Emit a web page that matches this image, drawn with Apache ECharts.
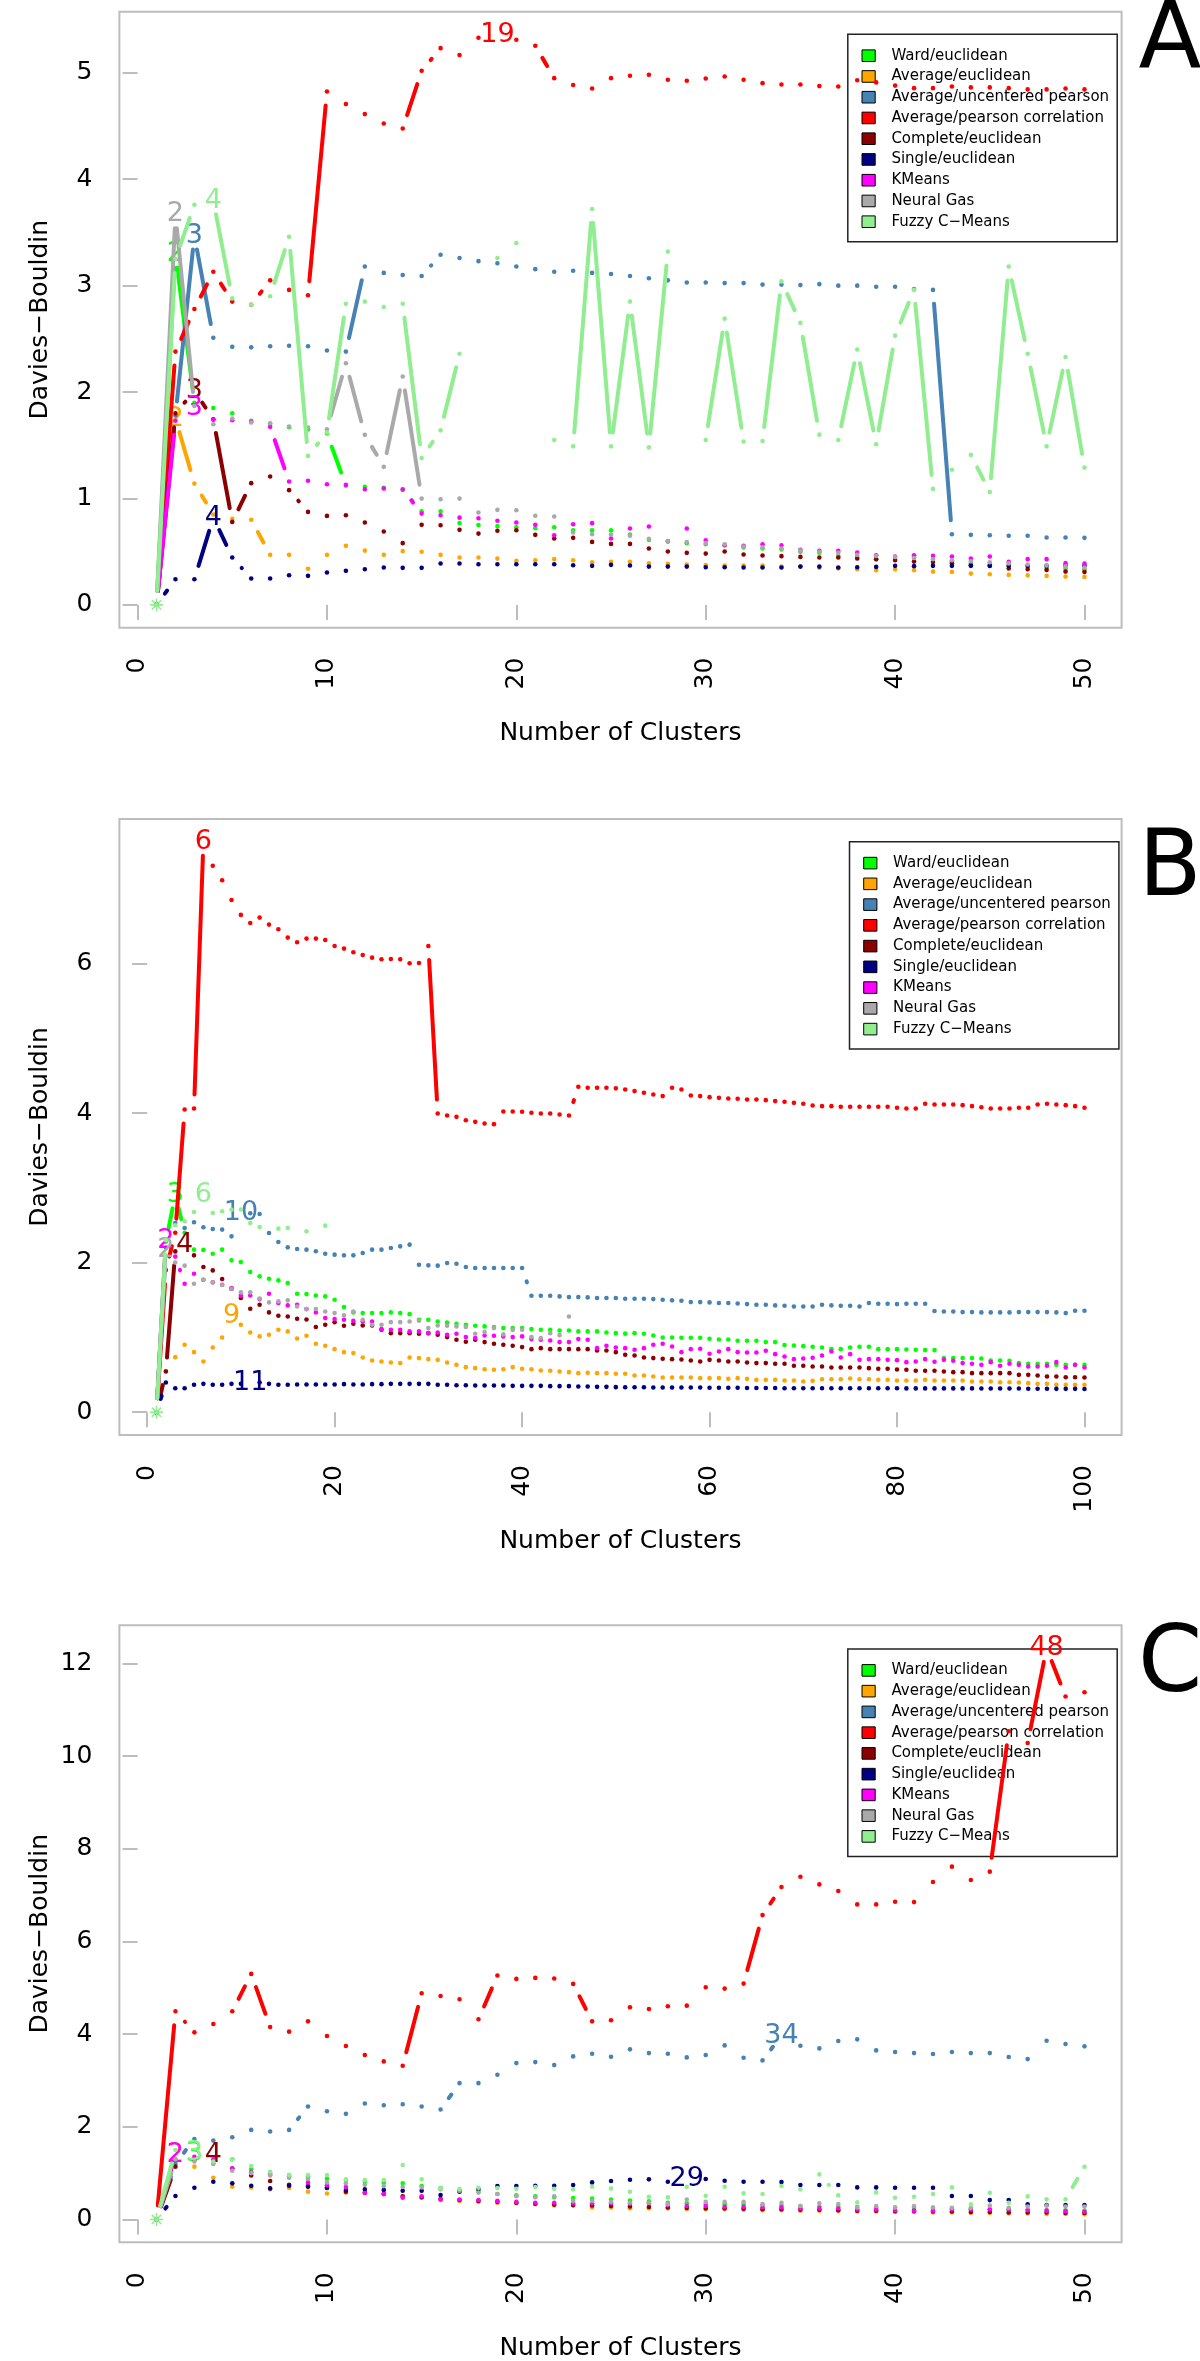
<!DOCTYPE html>
<html><head><meta charset="utf-8">
<script src="https://cdn.jsdelivr.net/npm/echarts@6/dist/echarts.min.js"></script>
<style>html,body{margin:0;padding:0;background:#fff}#chart{width:1200px;height:2361px}</style>
</head><body><div id="chart"></div>
<script>
// ---------- series names / colours ----------
const seriesNames = ['Ward/euclidean','Average/euclidean','Average/uncentered pearson','Average/pearson correlation','Complete/euclidean','Single/euclidean','KMeans','Neural Gas','Fuzzy C\u2212Means'];
const seriesColors = ['#00FF00','#FFA500','#4682B4','#FF0000','#8B0000','#000080','#FF00FF','#A9A9A9','#90EE90'];

// ---------- panel A (clusters 1..50) ----------
const aWard = [0,3.30,1.90,1.85,1.80,1.73,1.70,1.67,1.65,1.61,1.12,1.11,1.10,1.08,0.88,0.88,0.77,0.75,0.74,0.73,0.72,0.73,0.70,0.70,0.70,0.66,0.61,0.60,0.58,0.57,0.56,0.54,0.53,0.52,0.50,0.49,0.46,0.45,0.43,0.43,0.445,0.43,0.41,0.39,0.38,0.37,0.36,0.35,0.34,0.335];
const aAvgEuc = [0,1.75,1.14,0.85,0.81,0.80,0.47,0.47,0.34,0.47,0.555,0.51,0.47,0.505,0.50,0.47,0.445,0.445,0.435,0.415,0.42,0.43,0.42,0.40,0.405,0.405,0.39,0.385,0.38,0.375,0.37,0.37,0.37,0.36,0.36,0.35,0.342,0.335,0.326,0.335,0.326,0.313,0.31,0.294,0.288,0.282,0.279,0.273,0.266,0.263];
const aUncPear = [0,1.78,3.47,2.51,2.425,2.42,2.43,2.435,2.43,2.39,2.38,3.18,3.12,3.10,3.09,3.29,3.26,3.23,3.21,3.18,3.155,3.13,3.14,3.12,3.11,3.09,3.07,3.05,3.03,3.03,3.024,3.024,3.01,3.01,3.005,3.014,3.0,3.0,2.99,2.99,2.967,2.96,0.664,0.658,0.655,0.649,0.649,0.633,0.633,0.63];
const aPearCor = [0,2.38,2.78,3.13,2.85,2.82,3.05,2.96,2.91,4.825,4.706,4.612,4.524,4.477,5.019,5.232,5.167,5.33,5.36,5.311,5.254,4.95,4.885,4.853,4.95,4.972,4.982,4.935,4.925,4.947,4.966,4.935,4.903,4.89,4.89,4.875,4.872,4.93,4.91,4.88,4.856,4.856,4.872,4.863,4.863,4.856,4.844,4.844,4.853,4.844];
const aComplete = [0,1.80,2.01,1.745,0.78,1.144,1.206,1.078,0.874,0.836,0.843,0.774,0.69,0.58,0.752,0.749,0.705,0.67,0.696,0.702,0.658,0.624,0.63,0.592,0.573,0.573,0.53,0.501,0.489,0.482,0.501,0.473,0.464,0.458,0.451,0.445,0.445,0.436,0.43,0.42,0.407,0.404,0.392,0.373,0.367,0.342,0.335,0.329,0.313,0.31];
const aSingle = [0,0.241,0.241,0.821,0.445,0.248,0.248,0.279,0.273,0.304,0.32,0.335,0.351,0.348,0.348,0.389,0.389,0.382,0.382,0.382,0.382,0.382,0.373,0.367,0.376,0.37,0.36,0.36,0.36,0.354,0.354,0.351,0.351,0.351,0.36,0.36,0.351,0.354,0.357,0.367,0.364,0.367,0.367,0.367,0.367,0.367,0.367,0.367,0.367,0.367];
const aKMeans = [0,1.73,1.855,1.74,1.736,1.72,1.673,1.159,1.166,1.134,1.128,1.087,1.094,1.087,0.858,0.843,0.82,0.814,0.79,0.774,0.752,0.655,0.758,0.768,0.624,0.718,0.736,0.595,0.718,0.608,0.561,0.555,0.57,0.561,0.517,0.508,0.508,0.492,0.467,0.454,0.467,0.461,0.454,0.436,0.454,0.404,0.43,0.43,0.392,0.389];
const aNeural = [0,3.67,1.87,1.698,1.752,1.714,1.707,1.676,1.667,1.651,2.271,1.598,1.297,2.146,0.999,0.993,0.999,0.868,0.893,0.89,0.837,0.83,0.68,0.664,0.66,0.649,0.62,0.60,0.59,0.58,0.57,0.548,0.54,0.53,0.51,0.50,0.49,0.47,0.46,0.45,0.44,0.43,0.42,0.41,0.40,0.39,0.38,0.37,0.36,0.35];
const aFuzzy = [0,3.25,3.76,3.80,2.88,2.82,2.90,3.46,1.40,1.62,2.83,2.85,2.80,2.83,1.38,1.64,2.36,null,3.26,3.40,null,1.55,1.49,3.72,1.49,2.85,1.48,3.32,null,1.55,2.69,1.535,1.54,3.04,2.65,1.60,1.55,2.40,1.51,2.53,2.96,1.09,1.27,1.41,1.06,3.18,2.36,1.49,2.33,1.29];
const aLabelAt = [2,2,3,19,3,4,3,2,4];

// ---------- panel B (clusters 1..100) ----------
const bWard = [0,2.28,2.909,2.4,2.173,2.17,2.119,2.173,2.03,2.008,1.874,1.816,1.785,1.762,1.727,1.584,1.579,1.561,1.548,1.504,1.405,1.334,1.325,1.325,1.325,1.334,1.325,1.311,1.236,1.236,1.213,1.2,1.182,1.169,1.155,1.147,1.138,1.124,1.124,1.124,1.111,1.102,1.102,1.093,1.093,1.08,1.08,1.08,1.066,1.057,1.05,1.057,1.048,1.026,0.999,0.999,0.995,0.995,0.995,0.981,0.972,0.972,0.955,0.955,0.955,0.937,0.937,0.897,0.892,0.883,0.874,0.865,0.843,0.843,0.865,0.874,0.874,0.843,0.843,0.843,0.839,0.834,0.83,0.83,0.723,0.723,0.723,0.723,0.718,0.691,0.691,0.687,0.656,0.647,0.647,0.647,0.633,0.633,0.633,0.633];
const bAvgEuc = [0,0.55,0.736,0.901,0.803,0.678,0.865,0.999,1.28,1.169,1.066,1.013,1.035,1.102,1.08,0.986,1.022,0.914,0.888,0.843,0.803,0.79,0.731,0.691,0.678,0.665,0.656,0.731,0.723,0.709,0.7,0.665,0.633,0.602,0.589,0.575,0.567,0.575,0.602,0.58,0.575,0.557,0.553,0.544,0.535,0.522,0.526,0.522,0.522,0.513,0.513,0.49,0.49,0.477,0.464,0.464,0.464,0.464,0.455,0.455,0.455,0.446,0.455,0.446,0.432,0.432,0.432,0.424,0.424,0.41,0.419,0.441,0.441,0.441,0.45,0.441,0.441,0.432,0.432,0.424,0.424,0.424,0.432,0.424,0.424,0.424,0.424,0.41,0.41,0.41,0.401,0.401,0.397,0.388,0.379,0.379,0.366,0.366,0.366,0.366];
const bUncPear = [0,2.2,2.53,2.463,2.539,2.472,2.45,2.441,2.351,2.67,2.66,2.65,2.396,2.276,2.204,2.182,2.173,2.151,2.119,2.106,2.097,2.097,2.128,2.173,2.173,2.195,2.217,2.24,1.972,1.963,1.959,1.994,1.985,1.941,1.927,1.927,1.927,1.927,1.927,1.927,1.557,1.557,1.557,1.548,1.539,1.539,1.535,1.526,1.526,1.526,1.517,1.517,1.517,1.512,1.503,1.495,1.49,1.472,1.472,1.468,1.459,1.459,1.454,1.445,1.437,1.437,1.428,1.423,1.414,1.414,1.414,1.437,1.428,1.423,1.423,1.414,1.459,1.45,1.45,1.445,1.45,1.45,1.45,1.352,1.347,1.347,1.338,1.338,1.334,1.334,1.334,1.334,1.338,1.338,1.338,1.338,1.334,1.325,1.356,1.356];
const bPearCor = [0,1.9,2.4,4.047,4.06,7.626,7.305,7.113,6.849,6.649,6.541,6.613,6.519,6.457,6.345,6.283,6.332,6.332,6.314,6.234,6.198,6.149,6.113,6.077,6.055,6.06,6.055,6.002,6.006,6.234,3.993,3.967,3.949,3.904,3.882,3.86,3.851,4.02,4.02,4.016,4.003,3.993,3.993,3.98,3.967,4.351,4.337,4.337,4.337,4.33,4.315,4.293,4.27,4.248,4.226,4.337,4.315,4.234,4.226,4.212,4.203,4.194,4.19,4.181,4.181,4.172,4.159,4.15,4.136,4.123,4.101,4.092,4.092,4.083,4.083,4.083,4.083,4.083,4.083,4.07,4.06,4.06,4.123,4.114,4.114,4.114,4.105,4.092,4.078,4.06,4.06,4.06,4.07,4.07,4.114,4.123,4.114,4.105,4.092,4.07];
const bComplete = [0,0.544,2.15,2.24,2.097,1.941,1.896,1.78,1.65,1.526,1.383,1.437,1.334,1.289,1.28,1.249,1.24,1.138,1.169,1.204,1.155,1.182,1.16,1.16,1.102,1.057,1.057,1.057,1.048,1.057,1.035,1.004,0.968,0.941,0.968,0.937,0.914,0.901,0.888,0.87,0.843,0.856,0.843,0.843,0.843,0.843,0.843,0.825,0.825,0.803,0.767,0.758,0.731,0.723,0.714,0.709,0.705,0.691,0.678,0.7,0.691,0.678,0.678,0.665,0.656,0.656,0.647,0.647,0.62,0.62,0.611,0.611,0.598,0.598,0.598,0.598,0.589,0.58,0.58,0.571,0.567,0.553,0.553,0.553,0.544,0.535,0.535,0.522,0.522,0.522,0.522,0.522,0.499,0.499,0.49,0.477,0.477,0.468,0.468,0.464];
const bSingle = [0,0.397,0.321,0.321,0.366,0.379,0.366,0.366,0.379,0.38,0.388,0.397,0.379,0.366,0.366,0.37,0.37,0.37,0.37,0.37,0.375,0.37,0.37,0.375,0.375,0.379,0.379,0.379,0.379,0.379,0.366,0.366,0.361,0.361,0.357,0.357,0.357,0.357,0.352,0.352,0.352,0.352,0.348,0.348,0.348,0.343,0.343,0.339,0.339,0.335,0.333,0.333,0.333,0.33,0.33,0.33,0.33,0.33,0.33,0.327,0.327,0.327,0.327,0.324,0.324,0.324,0.324,0.321,0.321,0.321,0.321,0.321,0.321,0.321,0.321,0.321,0.321,0.321,0.321,0.321,0.318,0.318,0.318,0.318,0.318,0.318,0.318,0.318,0.316,0.316,0.316,0.316,0.316,0.314,0.314,0.314,0.312,0.312,0.312,0.31];
const bKMeans = [0,2.284,2.08,1.718,1.85,1.771,1.736,1.704,1.66,1.557,1.561,1.512,1.584,1.459,1.428,1.437,1.378,1.334,1.258,1.245,1.236,1.222,1.213,1.213,1.111,1.102,1.102,1.08,1.08,1.057,1.066,1.035,1.048,1.004,0.99,1.026,1.022,1.013,1.004,1.013,0.977,0.968,0.959,0.937,0.937,0.977,0.968,0.856,0.888,0.865,0.856,0.834,0.856,0.901,0.914,0.879,0.803,0.843,0.848,0.781,0.812,0.843,0.803,0.799,0.799,0.821,0.776,0.745,0.709,0.718,0.727,0.758,0.812,0.731,0.776,0.7,0.709,0.709,0.7,0.696,0.669,0.678,0.709,0.674,0.7,0.687,0.656,0.647,0.633,0.669,0.62,0.647,0.633,0.611,0.611,0.62,0.669,0.598,0.633,0.598];
const bNeural = [0,2.17,2.0,1.959,1.718,1.771,1.736,1.70,1.65,1.602,1.602,1.52,1.468,1.481,1.495,1.414,1.38,1.38,1.347,1.325,1.294,1.347,1.236,1.169,1.169,1.204,1.204,1.213,1.222,1.124,1.16,1.155,1.147,1.14,1.048,1.071,1.124,1.04,1.1,1.102,1.004,0.99,1.057,1.03,1.28];
const bFuzzy = [0,2.3,2.5,2.552,2.677,2.909,2.664,2.686,2.708,2.71,2.53,2.476,null,2.454,2.463,null,2.418,null,2.494];
const bLabelAt = [3,9,10,6,4,11,2,2,6];

// ---------- panel C (clusters 1..50) ----------
const cWard = [0,1.3,1.42,1.21,1.3,1.08,1.0,0.96,0.93,0.88,0.85,0.82,0.8,0.78,0.72,0.68,0.62,0.6,0.55,0.52,0.5,0.48,0.46,0.45,0.43,0.41,0.39,0.36,0.35,0.34,0.33,0.33,0.31,0.3,0.29,0.28,0.27,0.27,0.26,0.25,0.25,0.24,0.23,0.23,0.22,0.21,0.21,0.2,0.2,0.19];
const cAvgEuc = [0,1.4,1.14,0.9,0.707,0.69,0.65,0.68,0.6,0.56,0.58,0.57,0.55,0.49,0.47,0.42,0.4,0.38,0.36,0.35,0.33,0.3,0.3,0.26,0.26,0.24,0.24,0.24,0.22,0.22,0.22,0.21,0.2,0.2,0.19,0.19,0.18,0.17,0.17,0.16,0.16,0.15,0.15,0.14,0.14,0.13,0.13,0.12,0.12,0.11];
const cUncPear = [0,1.2,1.738,1.702,1.774,1.933,1.897,1.933,2.437,2.336,2.279,2.502,2.466,2.488,2.437,2.372,2.942,2.942,3.122,3.375,3.396,3.332,3.519,3.577,3.512,3.671,3.591,3.577,3.498,3.548,3.757,3.49,3.433,3.966,3.75,3.692,3.851,3.887,3.649,3.613,3.591,3.57,3.613,3.591,3.591,3.505,3.461,3.858,3.786,3.736];
const cPearCor = [0,4.493,4.038,4.219,4.493,5.3,4.154,4.053,4.276,3.959,3.743,3.548,3.411,3.317,4.882,4.824,4.752,4.32,5.264,5.192,5.214,5.2,5.084,4.276,4.298,4.579,4.543,4.601,4.615,5.012,4.983,5.091,6.569,7.175,7.398,7.232,7.088,6.8,6.8,6.857,6.85,7.283,7.615,7.326,7.507,10.536,10.283,12.331,11.286,11.38];
const cComplete = [0,1.14,1.3,1.39,1.1,0.95,0.83,0.75,0.72,0.68,0.6,0.58,0.55,0.5,0.48,0.44,0.42,0.4,0.38,0.36,0.34,0.32,0.31,0.3,0.29,0.28,0.27,0.26,0.25,0.24,0.24,0.23,0.22,0.22,0.21,0.21,0.2,0.19,0.19,0.18,0.18,0.17,0.17,0.16,0.16,0.15,0.15,0.15,0.14,0.14];
const cSingle = [0,0.505,0.685,0.815,0.779,0.728,0.67,0.728,0.707,0.685,0.634,0.649,0.634,0.62,0.62,0.526,0.6,0.65,0.721,0.721,0.728,0.728,0.743,0.8,0.829,0.858,0.865,0.815,0.865,0.872,0.836,0.815,0.815,0.807,0.743,0.743,0.743,0.692,0.692,0.685,0.685,0.685,0.505,0.505,0.418,0.418,0.325,0.31,0.31,0.31];
const cKMeans = [0,1.39,1.35,1.3,1.1,1.02,0.97,0.92,0.8,0.74,0.7,0.57,0.55,0.47,0.5,0.43,0.43,0.42,0.4,0.38,0.36,0.36,0.35,0.35,0.35,0.34,0.35,0.31,0.29,0.29,0.274,0.274,0.26,0.26,0.238,0.238,0.238,0.216,0.216,0.2,0.19,0.19,0.216,0.216,0.216,0.216,0.2,0.19,0.18,0.165];
const cNeural = [0,1.3,1.25,1.2,1.05,1.0,0.95,0.9,0.88,0.8,0.78,0.75,0.72,0.7,0.69,0.65,0.62,0.58,0.55,0.5,0.48,0.5,0.4,0.4,0.38,0.36,0.36,0.33,0.43,0.38,0.38,0.38,0.33,0.36,0.29,0.35,0.33,0.26,0.29,0.26,0.29,0.26,0.25,0.25,0.3,0.25,0.28,0.3,0.28,0.28];
const cFuzzy = [0,1.5,1.428,1.25,1.298,1.154,1.031,0.959,0.959,0.959,0.865,0.85,0.85,1.175,0.865,0.67,0.656,0.685,0.68,0.66,0.70,0.66,0.649,0.707,0.67,0.598,0.49,0.476,0.707,0.512,0.707,0.562,0.548,0.721,0.649,0.973,0.519,0.368,0.584,0.469,0.49,0.548,0.692,0.325,0.577,0.361,0.497,0.433,0.433,1.139];
const cLabelAt = [3,2,34,48,4,29,2,null,3];

// ---------- axis ticks ----------
const xTicksA = [0,10,20,30,40,50], yTicksA = [0,1,2,3,4,5];
const xTicksB = [0,20,40,60,80,100], yTicksB = [0,2,4,6];
const xTicksC = [0,10,20,30,40,50], yTicksC = [0,2,4,6,8,10,12];
const nClusters = [50, 100, 50];
const panelLetters = ['A','B','C'];

// ---------- layout ----------
const grids = [
  {left:119.4, top:11.7, width:1002.2, height:616},
  {left:119.4, top:819, width:1002.2, height:616},
  {left:119.4, top:1625.3, width:1002.2, height:617}
];
const legendBoxes = [{x:847.8,y:34.3},{x:849.5,y:841.7},{x:847.8,y:1649}];
const FONT = '"DejaVu Sans", Verdana, sans-serif';
const GAP = 14;

const panelData = [
  {vals:[aWard,aAvgEuc,aUncPear,aPearCor,aComplete,aSingle,aKMeans,aNeural,aFuzzy], labels:aLabelAt, xt:xTicksA, yt:yTicksA},
  {vals:[bWard,bAvgEuc,bUncPear,bPearCor,bComplete,bSingle,bKMeans,bNeural,bFuzzy], labels:bLabelAt, xt:xTicksB, yt:yTicksB},
  {vals:[cWard,cAvgEuc,cUncPear,cPearCor,cComplete,cSingle,cKMeans,cNeural,cFuzzy], labels:cLabelAt, xt:xTicksC, yt:yTicksC}
];

function rangeOf(arrs){
  let mn = Infinity, mx = -Infinity;
  arrs.forEach(a => a.forEach(v => { if (v !== null && v !== undefined){ mn = Math.min(mn, v); mx = Math.max(mx, v);} }));
  const r = mx - mn; return [mn - 0.04*r, mx + 0.04*r];
}

function makeSeries(pi, si){
  const vals = panelData[pi].vals[si];
  const color = seriesColors[si];
  const labelAt = panelData[pi].labels[si];
  const isFuzzy = si === 8;
  const data = [];
  vals.forEach((v, i) => {
    if (v === null || v === undefined) return;
    const prev = i > 0 ? vals[i-1] : null;
    const hp = (prev !== null && prev !== undefined) ? 1 : 0;
    data.push([i + 1, v, hp ? prev : 0, hp]);
  });
  return {
    name: seriesNames[si], type:'custom', xAxisIndex:pi, yAxisIndex:pi, clip:true,
    itemStyle:{color:color}, encode:{x:0, y:1}, data:data, silent:true, animation:false,
    renderItem: function(params, api){
      const x = api.value(0), y = api.value(1), py = api.value(2), hp = api.value(3);
      const p = api.coord([x, y]);
      const ch = [];
      if (hp){
        const q = api.coord([x - 1, py]);
        const dx = p[0]-q[0], dy = p[1]-q[1], d = Math.hypot(dx, dy);
        if (d > 2*GAP){
          const f = GAP/d;
          ch.push({type:'line', shape:{x1:q[0]+f*dx, y1:q[1]+f*dy, x2:p[0]-f*dx, y2:p[1]-f*dy},
            style:{stroke:color, lineWidth:4, lineCap:'round'}});
        }
      }
      if (labelAt !== null && x === labelAt){
        ch.push({type:'text', x:p[0], y:p[1], style:{text:String(x), fill:color, font:'27px ' + FONT,
          align:'center', verticalAlign:'middle', textAlign:'center', textVerticalAlign:'middle'}});
      } else if (isFuzzy && x === 1){
        const r = 6.5, s = r*0.7071;
        [[-r,0,r,0],[0,-r,0,r],[-s,-s,s,s],[-s,s,s,-s]].forEach(l => ch.push({type:'line',
          shape:{x1:p[0]+l[0], y1:p[1]+l[1], x2:p[0]+l[2], y2:p[1]+l[3]}, style:{stroke:color, lineWidth:1.6}}));
      } else {
        ch.push({type:'circle', shape:{cx:p[0], cy:p[1], r:2.3}, style:{fill:color}});
      }
      return {type:'group', children:ch};
    }
  };
}

const gridOpts = [], xAxes = [], yAxes = [], series = [], graphic = [];
const letterOffsets = [31, 52, 42];
grids.forEach((g, pi) => {
  gridOpts.push(Object.assign({show:true, borderColor:'#bdbdbd', borderWidth:2, backgroundColor:'transparent', containLabel:false, outerBoundsMode:'none'}, g));
  const xr = [1 - 0.04*(nClusters[pi]-1), nClusters[pi] + 0.04*(nClusters[pi]-1)];
  const yr = rangeOf(panelData[pi].vals);
  xAxes.push({gridIndex:pi, type:'value', min:xr[0], max:xr[1], axisLine:{show:false}, splitLine:{show:false},
    axisTick:{show:true, length:15, inside:false, customValues:panelData[pi].xt, lineStyle:{color:'#bdbdbd', width:2}},
    axisLabel:{customValues:panelData[pi].xt, rotate:90, margin:30, fontSize:25, fontFamily:FONT, color:'#000'}});
  yAxes.push({gridIndex:pi, type:'value', min:yr[0], max:yr[1], axisLine:{show:false}, splitLine:{show:false},
    axisTick:{show:true, length:15, inside:false, customValues:panelData[pi].yt, lineStyle:{color:'#bdbdbd', width:2}},
    axisLabel:{customValues:panelData[pi].yt, margin:27, fontSize:25, fontFamily:FONT, color:'#000'}});
  for (let si = 0; si < 9; si++) series.push(makeSeries(pi, si));

  // axis titles
  graphic.push({type:'text', x:g.left + g.width/2, y:g.top + g.height + 106, style:{text:'Number of Clusters', font:'25px ' + FONT, fill:'#000', align:'center', verticalAlign:'middle', textAlign:'center', textVerticalAlign:'middle'}});
  graphic.push({type:'text', x:40, y:g.top + g.height/2, rotation:Math.PI/2, style:{text:'Davies\u2212Bouldin', font:'25px ' + FONT, fill:'#000', align:'center', verticalAlign:'middle', textAlign:'center', textVerticalAlign:'middle'}});
  // panel letter
  graphic.push({type:'text', x:1170, y:g.top + letterOffsets[pi], style:{text:panelLetters[pi], font:'92px ' + FONT, fill:'#000', align:'center', verticalAlign:'middle', textAlign:'center', textVerticalAlign:'middle'}});
  // legend
  const lb = legendBoxes[pi];
  graphic.push({type:'rect', shape:{x:lb.x, y:lb.y, width:269.4, height:207.4}, style:{fill:null, stroke:'#222', lineWidth:1.5}});
  seriesNames.forEach((nm, k) => {
    const cy = lb.y + 21.4 + k*20.75;
    graphic.push({type:'rect', shape:{x:lb.x + 14.2, y:cy - 5.8, width:13.2, height:11.6}, style:{fill:seriesColors[k], stroke:'#000', lineWidth:1}});
    graphic.push({type:'text', x:lb.x + 43.6, y:cy, style:{text:nm, font:'15px ' + FONT, fill:'#000', align:'left', verticalAlign:'middle', textAlign:'left', textVerticalAlign:'middle'}});
  });
});

const chart = echarts.init(document.getElementById('chart'), null, {renderer:'canvas'});
chart.setOption({animation:false, backgroundColor:'#fff', grid:gridOpts, xAxis:xAxes, yAxis:yAxes, series:series, graphic:graphic});
</script></body></html>
